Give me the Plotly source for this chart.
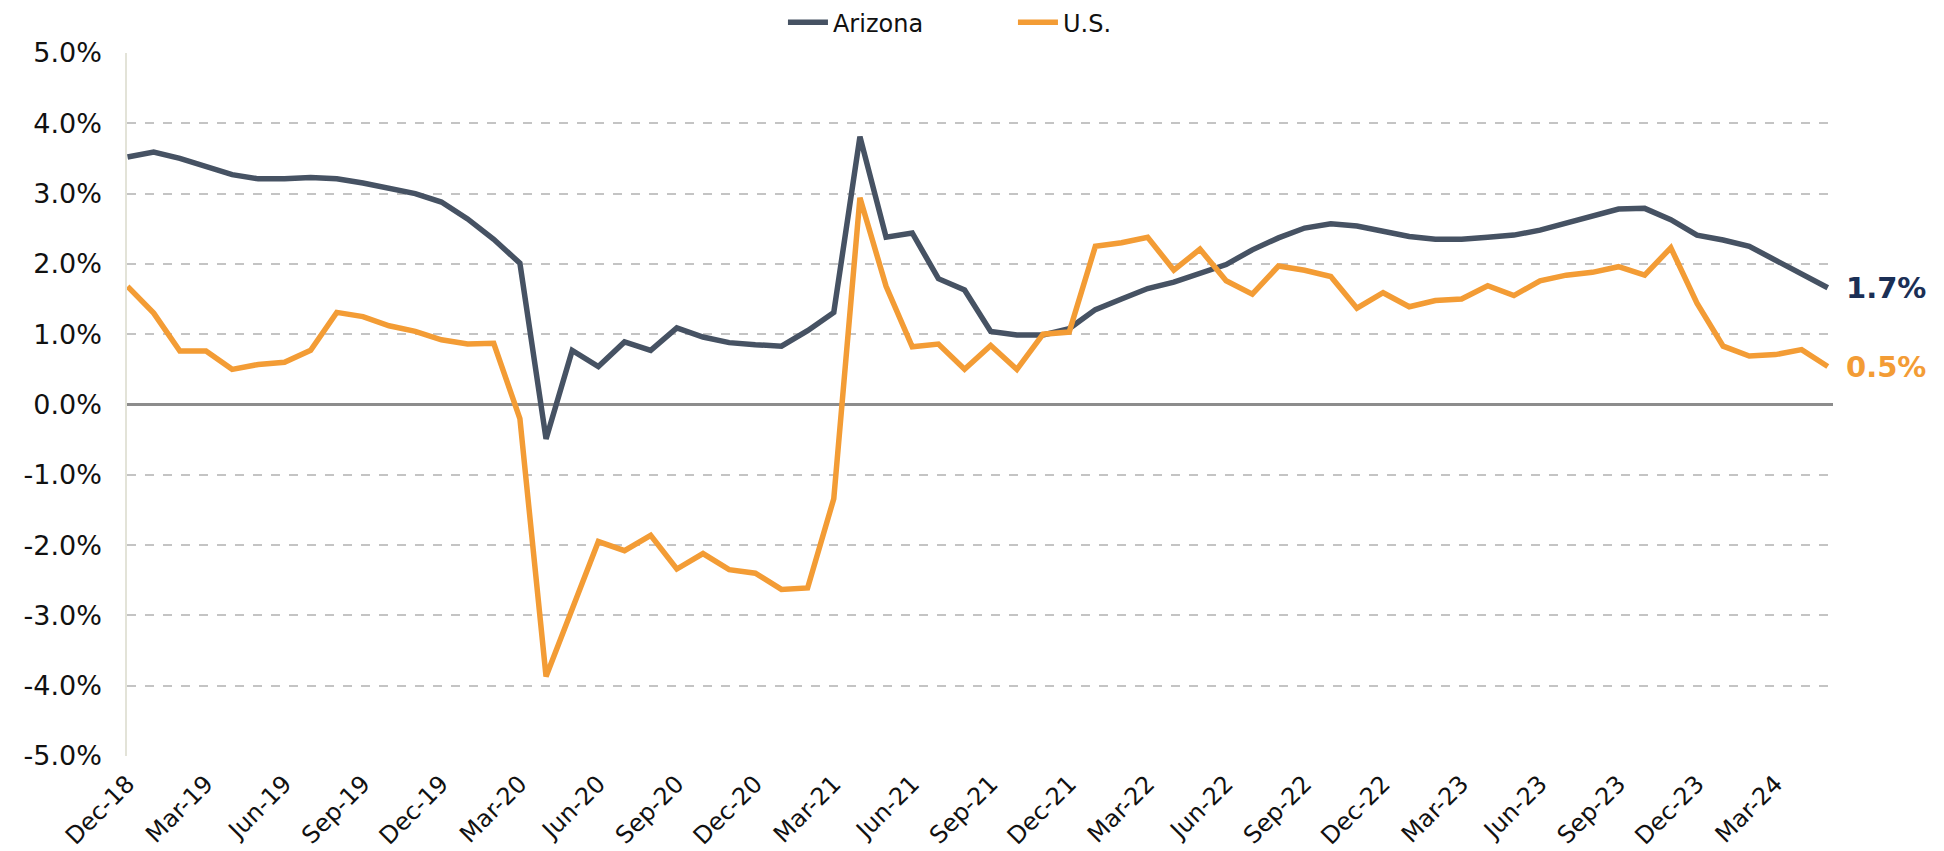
import pandas as pd
import plotly.graph_objects as go

months = [d.strftime("%b-%y") for d in pd.date_range("2018-12-01", periods=66, freq="MS")]

arizona = [3.52, 3.59, 3.50, 3.38, 3.27, 3.21, 3.21, 3.23, 3.21, 3.15,
           3.07, 3.00, 2.88, 2.64, 2.35, 2.01, -0.49, 0.77, 0.54, 0.89,
           0.77, 1.09, 0.96, 0.88, 0.85, 0.83, 1.05, 1.31, 3.81, 2.38,
           2.44, 1.79, 1.63, 1.04, 0.99, 0.99, 1.08, 1.35, 1.50, 1.65,
           1.74, 1.86, 1.99, 2.20, 2.37, 2.51, 2.57, 2.54, 2.47, 2.39,
           2.35, 2.35, 2.38, 2.41, 2.48, 2.58, 2.70, 2.78, 2.79, 2.63,
           2.41, 2.34, 2.25, 2.05, 1.86, 1.66]

us = [1.68, 1.30, 0.76, 0.76, 0.50, 0.57, 0.60, 0.77, 1.31, 1.25,
      1.12, 1.04, 0.92, 0.86, 0.87, -0.20, -3.87, -2.89, -1.95, -2.08,
      -1.86, -2.34, -2.12, -2.35, -2.40, -2.63, -2.61, -1.34, 2.94, 1.68,
      0.82, 0.86, 0.50, 0.84, 0.50, 1.00, 1.03, 2.25, 2.30, 2.38,
      1.91, 2.21, 1.76, 1.57, 1.97, 1.91, 1.82, 1.37, 1.59, 1.39,
      1.48, 1.50, 1.69, 1.55, 1.76, 1.84, 1.88, 1.96, 1.84, 2.23,
      1.44, 0.83, 0.69, 0.71, 0.78, 0.54]

y_ticks = [-5, -4, -3, -2, -1, 0, 1, 2, 3, 4, 5]
y_tick_labels = ["-5.0%", "-4.0%", "-3.0%", "-2.0%", "-1.0%", "0.0%",
                 "1.0%", "2.0%", "3.0%", "4.0%", "5.0%"]
x_ticks = months[::3]

AZ_COLOR = "#465263"
US_COLOR = "#F39C35"
FONT = "DejaVu Sans"

fig = go.Figure()
fig.add_trace(go.Scatter(x=months, y=arizona, mode="lines", name="Arizona",
                         line=dict(color=AZ_COLOR, width=5.5)))
fig.add_trace(go.Scatter(x=months, y=us, mode="lines", name="U.S.",
                         line=dict(color=US_COLOR, width=5.5)))

fig.add_annotation(x=months[-1], y=arizona[-1], xref="x", yref="y",
                   text=f"{arizona[-1]:.1f}%", showarrow=False, xanchor="left",
                   xshift=16, font=dict(family=FONT, size=29, color="#1B2F55", weight="bold"))
fig.add_annotation(x=months[-1], y=us[-1], xref="x", yref="y",
                   text=f"{us[-1]:.1f}%", showarrow=False, xanchor="left",
                   xshift=16, font=dict(family=FONT, size=29, color=US_COLOR, weight="bold"))

fig.update_layout(
    width=1944, height=851,
    margin=dict(l=119, r=119, t=45, b=103, autoexpand=False),
    paper_bgcolor="white", plot_bgcolor="white",
    font=dict(family=FONT, size=25, color="#111111"),
    showlegend=True,
    legend=dict(orientation="h", x=0.3845, xanchor="left", y=1.043, yanchor="middle",
                font=dict(family=FONT, size=24, color="#111111"),
                itemwidth=40, entrywidth=175, entrywidthmode="pixels", tracegroupgap=0),
    xaxis=dict(type="category", tickmode="array", tickvals=x_ticks, ticktext=x_ticks,
               tickangle=-45, range=[-0.02, 65.2], showgrid=False, zeroline=False,
               showline=False, ticks="", tickfont=dict(family=FONT, size=24),
               ticklabelstandoff=8),
    yaxis=dict(range=[-5, 5], tickmode="array", tickvals=y_ticks, ticktext=y_tick_labels,
               showgrid=True, gridcolor="#C4C4C4",
               griddash="dash", gridwidth=1.5, zeroline=True, zerolinecolor="#8C8C8C",
               zerolinewidth=2.5, showline=True, linecolor="#E3E3D8", linewidth=1.5,
               ticks="", tickfont=dict(family=FONT, size=27), ticklabelstandoff=18),
)

fig.write_html("out.html")
